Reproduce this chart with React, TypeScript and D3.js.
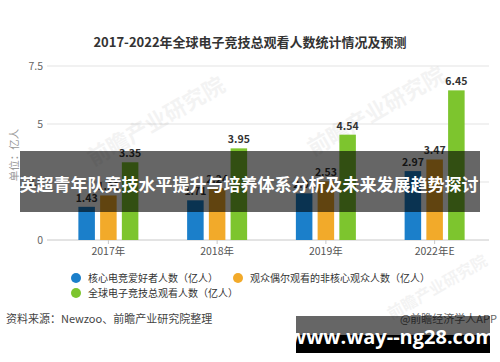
import React from "react";
import * as d3 from "d3";

const categories = ["2017年", "2018年", "2019年", "2022年E"];
const seriesNames = [
  "核心电竞爱好者人数（亿人）",
  "观众偶尔观看的非核心观众人数（亿人）",
  "全球电子竞技总观看人数（亿人）",
];
const coreFans = [1.43, 1.71, 2.01, 2.97];
const casualViewers = [1.92, 2.24, 2.53, 3.47];
const totalViewers = [3.35, 3.95, 4.54, 6.45];
const yTicks = [0, 2.5, 5, 7.5];
const yTickLabels = ["0", "2.5", "5", "7.5"];
const colors = ["#1b7fca", "#f2aa2a", "#7dc52e"];

const title = "2017-2022年全球电子竞技总观看人数统计情况及预测";
const overlayTitle = "英超青年队竞技水平提升与培养体系分析及未来发展趋势探讨";
const sourceText = "资料来源：Newzoo、前瞻产业研究院整理";
const creditText = "@前瞻经济学人APP";
const siteText = "www.way--ng28.com";

const FONT = "'Noto Sans CJK SC', 'Noto Sans', sans-serif";

export default function App() {
  const W = 500;
  const H = 362;
  const y = d3.scaleLinear().domain([0, 7.5]).range([240, 66]);
  const x0 = d3.scaleBand<string>().domain(categories).range([54, 489]).padding(0);
  const x1 = d3
    .scaleBand<number>()
    .domain([0, 1, 2])
    .range([-30, 30])
    .paddingInner(0.24);
  const series = [coreFans, casualViewers, totalViewers];

  return (
    <div style={{ position: "absolute", left: 0, top: 0, width: W, height: H, background: "#fff" }}>
      <svg width={W} height={H} style={{ display: "block", fontFamily: FONT }}>
        <rect x={0} y={0} width={W} height={H} fill="#fff" />
        <text x={250} y={47} textAnchor="middle" fontSize={13} fontWeight="bold" fill="#333">
          {title}
        </text>

        {/* grid */}
        {yTicks.map((t, i) => (
          <g key={"g" + i}>
            <line
              x1={47}
              x2={489}
              y1={y(t)}
              y2={y(t)}
              stroke={t === 0 ? "#c8c8c8" : "#e3e3e3"}
              strokeWidth={1}
            />
            <text x={43} y={y(t) + 4} textAnchor="end" fontSize={10.5} fill="#666">
              {yTickLabels[i]}
            </text>
          </g>
        ))}

        <text
          transform={`translate(18,155) rotate(-90)`}
          textAnchor="middle"
          fontSize={10.5}
          fill="#999"
        >
          单位：亿人
        </text>

        {/* watermarks */}
        {[
          [160, 128, 22],
          [380, 118, 22],
          [440, 292, 16],
        ].map(([wx, wy, fs], i) => (
          <text
            key={"w" + i}
            transform={`translate(${wx},${wy}) rotate(-30)`}
            textAnchor="middle"
            fontSize={fs}
            fontWeight="bold"
            fill="#000"
            opacity={0.045}
          >
            前瞻产业研究院
          </text>
        ))}

        {/* bars */}
        {categories.map((c, ci) => {
          const cx = (x0(c) ?? 0) + x0.bandwidth() / 2;
          return (
            <g key={c}>
              {series.map((s, si) => {
                const bx = cx + (x1(si) ?? 0);
                const v = s[ci];
                return (
                  <g key={si}>
                    <rect
                      x={bx}
                      y={y(v)}
                      width={x1.bandwidth()}
                      height={y(0) - y(v)}
                      fill={colors[si]}
                    />
                    <text
                      x={bx + x1.bandwidth() / 2}
                      y={y(v) - 5}
                      textAnchor="middle"
                      fontSize={10.5}
                      fontWeight="bold"
                      fill="#333"
                    >
                      {v.toFixed(2)}
                    </text>
                  </g>
                );
              })}
              <line x1={cx} x2={cx} y1={240} y2={244} stroke="#c8c8c8" />
              <text x={cx} y={255} textAnchor="middle" fontSize={10.5} fill="#555">
                {c}
              </text>
            </g>
          );
        })}

        {/* legend */}
        {[
          [76, 278],
          [238, 278],
          [76, 293],
        ].map(([lx, ly], i) => (
          <g key={"l" + i}>
            <circle cx={lx} cy={ly} r={5} fill={colors[i]} />
            <text x={lx + 12} y={ly + 3.5} fontSize={10} fill="#333">
              {seriesNames[i]}
            </text>
          </g>
        ))}

        <text x={6} y={323} fontSize={11} fill="#444">
          {sourceText}
        </text>
        <text x={497} y={323} textAnchor="end" fontSize={11} fill="#666">
          {creditText}
        </text>

        {/* overlay banner */}
        <rect x={20} y={151} width={460} height={61} fill="#000" opacity={0.6} />
        <text x={249} y={191} textAnchor="middle" fontSize={17} fontWeight="bold" fill="#fff">
          {overlayTitle}
        </text>

        {/* bottom site box */}
        <rect x={296} y={316} width={194} height={19} fill="#000" opacity={0.6} />
        <rect x={296} y={335} width={194} height={18} fill="#000" />
        <text
          x={392}
          y={344}
          textAnchor="middle"
          fontSize={20}
          fontWeight="bold"
          fill="#fff"
          style={{ fontFamily: "'Open Sans', 'Noto Sans', sans-serif" }}
        >
          {siteText}
        </text>
      </svg>
    </div>
  );
}
